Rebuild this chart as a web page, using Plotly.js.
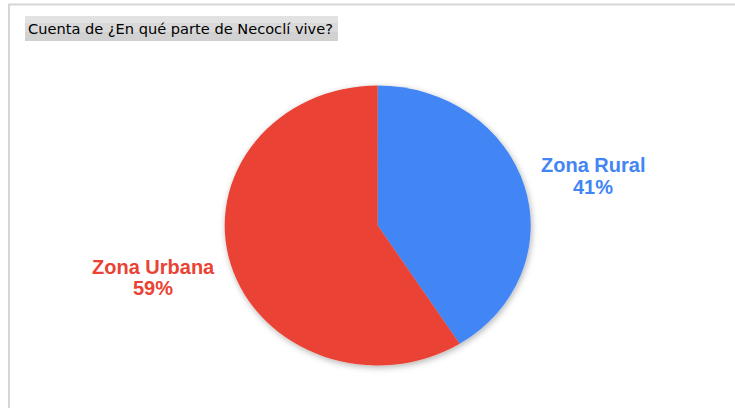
<!DOCTYPE html>
<html>
<head>
<meta charset="utf-8">
<script src="https://cdn.plot.ly/plotly-3.0.1.min.js"></script>
<style>
  html, body { margin: 0; padding: 0; background: #ffffff; }
  #chart { width: 735px; height: 408px; }
</style>
</head>
<body>
<div id="chart"></div>
<script>
// ---- Data ----
const chartTitle = "Cuenta de ¿En qué parte de Necoclí vive?";
const categories = ["Zona Rural", "Zona Urbana"];
const counts = [41, 59];
const sliceColors = ["#4285F4", "#EA4335"];

// ---- Layout helpers (pixel -> paper) ----
const W = 735, H = 408;
const px = x => x / W;
const py = y => 1 - y / H;

const total = counts.reduce((a, b) => a + b, 0);
const pct = counts.map(v => Math.round(v / total * 100) + "%");

// pie centre / radius in pixels
const cx = 377.7, cy = 225.5, r = 140;
const stretchX = 153 / 140;

const labelPos = [
  { x: 593, y1: 165, y2: 187 },
  { x: 153, y1: 267, y2: 288 }
];

const annotations = [];
categories.forEach((c, i) => {
  annotations.push({
    xref: "paper", yref: "paper", x: px(labelPos[i].x), y: py(labelPos[i].y1),
    xanchor: "center", yanchor: "middle", showarrow: false,
    text: "<b>" + c + "</b>",
    font: { family: "Liberation Sans, Arial, sans-serif", size: 20, color: sliceColors[i] }
  });
  annotations.push({
    xref: "paper", yref: "paper", x: px(labelPos[i].x), y: py(labelPos[i].y2),
    xanchor: "center", yanchor: "middle", showarrow: false,
    text: "<b>" + pct[i] + "</b>",
    font: { family: "Liberation Sans, Arial, sans-serif", size: 20, color: sliceColors[i] }
  });
});
// title
annotations.push({
  xref: "paper", yref: "paper", x: px(26), y: py(28.5),
  xanchor: "left", yanchor: "middle", showarrow: false,
  text: chartTitle,
  font: { family: "DejaVu Sans, Verdana, sans-serif", size: 14.6, color: "#000000" }
});

const shapes = [
  // title background box
  { type: "rect", xref: "paper", yref: "paper", x0: px(25), x1: px(338), y0: py(41), y1: py(16),
    fillcolor: "#d1d1d1", line: { width: 0 }, layer: "below" },
  { type: "rect", xref: "paper", yref: "paper", x0: px(25), x1: px(338), y0: py(32), y1: py(16),
    fillcolor: "#d9d9d9", line: { width: 0 }, layer: "below" },
  { type: "rect", xref: "paper", yref: "paper", x0: px(25), x1: px(338), y0: py(23), y1: py(16),
    fillcolor: "#e2e2e2", line: { width: 0 }, layer: "below" },
  // frame lines
  { type: "line", xref: "paper", yref: "paper", x0: px(8), x1: px(735), y0: py(4.5), y1: py(4.5),
    line: { color: "#d6d6d6", width: 2 } },
  { type: "line", xref: "paper", yref: "paper", x0: px(9), x1: px(9), y0: py(4), y1: py(408),
    line: { color: "#d6d6d6", width: 2 } }
];

const trace = {
  type: "pie",
  labels: categories,
  values: counts,
  marker: { colors: sliceColors, line: { width: 0 } },
  sort: false,
  direction: "clockwise",
  rotation: 0,
  textinfo: "none",
  hoverinfo: "label+percent",
  domain: { x: [px(cx - r), px(cx + r)], y: [py(cy + r), py(cy - r)] }
};

const layout = {
  width: W, height: H,
  margin: { l: 0, r: 0, t: 0, b: 0 },
  paper_bgcolor: "#ffffff",
  plot_bgcolor: "#ffffff",
  showlegend: false,
  annotations: annotations,
  shapes: shapes
};

Plotly.newPlot("chart", [trace], layout, { displayModeBar: false, staticPlot: true }).then(gd => {
  const svg = gd.querySelector("svg.main-svg");
  const ns = "http://www.w3.org/2000/svg";
  let defs = svg.querySelector("defs");
  if (!defs) { defs = document.createElementNS(ns, "defs"); svg.insertBefore(defs, svg.firstChild); }
  const f = document.createElementNS(ns, "filter");
  f.setAttribute("id", "pieShadow");
  f.setAttribute("x", "-20%"); f.setAttribute("y", "-20%");
  f.setAttribute("width", "140%"); f.setAttribute("height", "140%");
  const ds = document.createElementNS(ns, "feDropShadow");
  ds.setAttribute("dx", "1"); ds.setAttribute("dy", "2");
  ds.setAttribute("stdDeviation", "3");
  ds.setAttribute("flood-color", "#000000");
  ds.setAttribute("flood-opacity", "0.3");
  f.appendChild(ds);
  defs.appendChild(f);
  const pl = gd.querySelector(".pielayer");
  if (pl) {
    const prev = pl.getAttribute("transform") || "";
    pl.setAttribute("transform",
      "translate(" + cx + ",0) scale(" + stretchX + ",1) translate(" + (-cx) + ",0) " + prev);
    pl.setAttribute("filter", "url(#pieShadow)");
  }
});
</script>
</body>
</html>
